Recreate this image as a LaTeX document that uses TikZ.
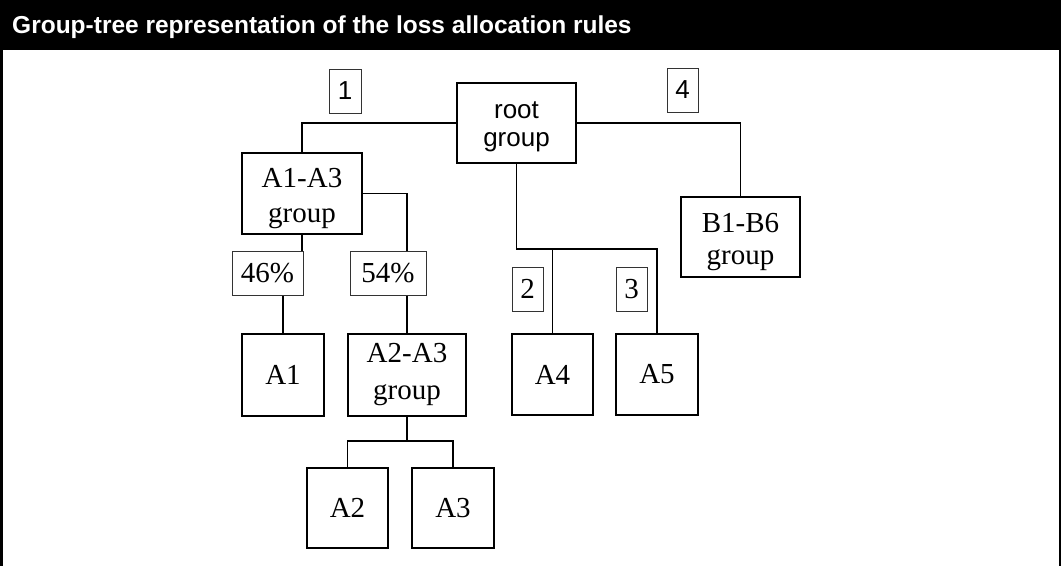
\documentclass[tikz,border=0pt]{standalone}
\usepackage{fontspec}
\setmainfont{Liberation Serif}
\setsansfont{Liberation Sans}
\usetikzlibrary{backgrounds}
\newcommand\grpfont{\fontsize{29}{35}\selectfont}
\newcommand\grpsans{\sffamily\fontsize{26}{28}\selectfont}
\begin{document}
\begin{tikzpicture}[x=1pt,y=-1pt,
  grp/.style={draw=black, line width=2pt, fill=white, inner sep=0pt},
  txt/.style={font=\grpfont, align=center, inner sep=0pt},
  tag/.style={draw=black!80, line width=1pt, fill=white, inner sep=0pt,
              minimum height=44pt, font=\grpfont},
  sanstag/.style={tag, font=\grpsans},
  wire/.style={line width=1.5pt, line cap=rect}
]
\useasboundingbox (0,0) rectangle (1061,566);

% header bar and side rules of the frame
\fill[black] (0,0) rectangle (1061,49.5);
\draw[line width=2.5pt] (1.6,49) -- (1.6,566);
\draw[line width=2pt] (1060,49) -- (1060,566);
\node[anchor=base west, text=white, inner sep=0pt,
      font=\sffamily\bfseries\fontsize{24.5}{28}\selectfont] (title) at (12,33)
      {Group-tree representation of the loss allocation rules};

% group and account boxes
\node[grp, minimum width=119pt, minimum height=80pt,
      label={[txt, font=\grpsans, yshift=-3.5pt]center:{root\\group}}] (root) at (516.5,123) {};
\node[grp, minimum width=120pt, minimum height=81pt,
      label={[txt, yshift=-5pt]center:{A1-A3\\group}}] (a13) at (302,193.5) {};
\node[grp, minimum width=119pt, minimum height=80pt,
      label={[txt, font=\fontsize{29}{32}\selectfont, yshift=-5.5pt]center:{B1-B6\\group}}] (b16) at (740.5,237) {};
\node[grp, minimum width=82pt, minimum height=82pt, font=\grpfont] (a1) at (283,375) {A1};
\node[grp, minimum width=118pt, minimum height=82pt,
      label={[txt, font=\fontsize{29}{37}\selectfont, yshift=0pt]center:{A2-A3\\group}}] (a23) at (407,375) {};
\node[grp, minimum width=81pt, minimum height=81pt, font=\grpfont] (a4) at (552.5,374.5) {A4};
\node[grp, minimum width=82pt, minimum height=81pt, font=\grpfont] (a5) at (657,374.5) {A5};
\node[grp, minimum width=81pt, minimum height=80pt, font=\grpfont] (a2) at (347.5,508) {A2};
\node[grp, minimum width=82pt, minimum height=80pt, font=\grpfont] (a3) at (453,508) {A3};

% rule numbers and split percentages
\node[sanstag, minimum width=32pt] (n1) at (345,91) {1};
\node[sanstag, minimum width=31pt] (n4) at (682.5,90) {4};
\node[tag, minimum width=31pt] (n2) at (527.5,289) {2};
\node[tag, minimum width=31pt] (n3) at (631.5,289) {3};
\node[tag, minimum width=71pt] (t46) at (267.5,273) {46\%};
\node[tag, minimum width=76pt] (t54) at (388,273) {54\%};

\coordinate (rj) at (516.5,249);
\coordinate (aj) at (407,441);

% tree connectors
\begin{pgfonlayer}{background}
\draw[wire] (root.west) -| (a13.north);
\draw[wire] (root.east) -| (b16.north);
\draw[wire] (root.south) -- (rj) -| (a5.north);
\draw[wire] (a4.north) -- (a4.north |- rj);
\draw[wire] (a13.south) -- (a13.south |- t46.north);
\draw[wire] (a1.north |- t46.south) -- (a1.north);
\draw[wire] (a13.east) -| (a23.north);
\draw[wire] (a23.south) -- (aj);
\draw[wire] (a2.north) |- (aj) -| (a3.north);
\end{pgfonlayer}
\end{tikzpicture}
\end{document}
